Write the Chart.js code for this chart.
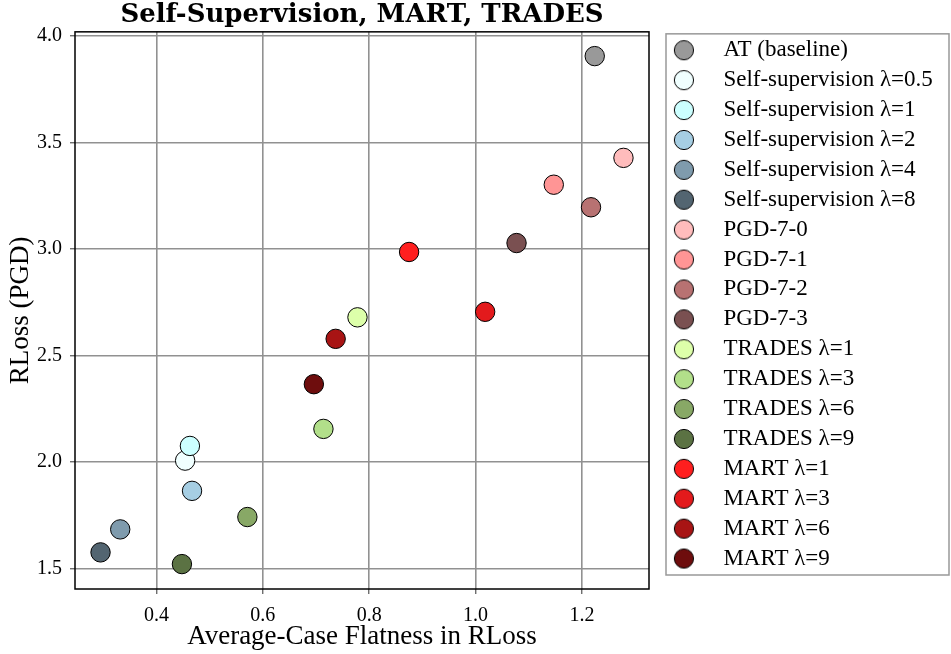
<!DOCTYPE html>
<html>
<head>
<meta charset="utf-8">
<script src="https://cdn.jsdelivr.net/npm/chart.js@4.4.1/dist/chart.umd.min.js"></script>
<style>
  html, body { margin: 0; padding: 0; background: #fff; }
</style>
</head>
<body>
<canvas id="chart" width="951" height="654"></canvas>
<script>
'use strict';

/* ---- data ---- */
const SERIES = [
    'AT (baseline)',
    'Self-supervision λ=0.5', 'Self-supervision λ=1', 'Self-supervision λ=2',
    'Self-supervision λ=4', 'Self-supervision λ=8',
    'PGD-7-0', 'PGD-7-1', 'PGD-7-2', 'PGD-7-3',
    'TRADES λ=1', 'TRADES λ=3', 'TRADES λ=6', 'TRADES λ=9',
    'MART λ=1', 'MART λ=3', 'MART λ=6', 'MART λ=9'
];
// average-case flatness (x)
const FLATNESS = [
    1.224,
    0.454, 0.463, 0.467, 0.332, 0.295,
    1.278, 1.147, 1.217, 1.077,
    0.778, 0.714, 0.571, 0.448,
    0.875, 1.018, 0.737, 0.696
];
// RLoss (PGD) (y)
const RLOSS = [
    3.906,
    2.006, 2.075, 1.864, 1.683, 1.575,
    3.428, 3.302, 3.196, 3.028,
    2.679, 2.155, 1.741, 1.520,
    2.986, 2.705, 2.578, 2.365
];
const FILLS = [
    '#999999',
    '#f0ffff', '#ccffff', '#a6cee3', '#7f9bad', '#536571',
    '#ffbcbc', '#ff9595', '#b87272', '#7a5051',
    '#ddffaa', '#b2df8a', '#88a866', '#5b7243',
    '#ff1f1f', '#e31a1c', '#a81414', '#6e0d0d'
];
const X_TICKS = [0.4, 0.6, 0.8, 1.0, 1.2];
const Y_TICKS = [1.5, 2.0, 2.5, 3.0, 3.5, 4.0];

const SERIF = "'Liberation Serif', 'Times New Roman', serif";
const LEGEND_W = 302;

// legend markers: little canvases so the circle keeps its shape with a wide box
function markerImage(fill) {
    const c = document.createElement('canvas');
    c.width = 22; c.height = 22;
    const g = c.getContext('2d');
    g.beginPath();
    g.arc(11, 11, 9.6, 0, Math.PI * 2);
    g.fillStyle = fill;
    g.fill();
    g.lineWidth = 1;
    g.strokeStyle = '#000';
    g.stroke();
    return c;
}
const MARKERS = FILLS.map(markerImage);

// axes frame + legend box
const framePlugin = {
    id: 'frame',
    beforeLayout(chart) {
        const lg = chart.legend;
        if (lg && !lg._fixedWidth) {
            const fit = lg.fit.bind(lg);
            lg.fit = function () { fit(); this.width = LEGEND_W; };
            lg._fixedWidth = true;
        }
    },
    afterDatasetsDraw(chart) {
        const { ctx, chartArea: a } = chart;
        ctx.save();
        ctx.strokeStyle = '#000';
        ctx.lineWidth = 1.5;
        ctx.strokeRect(a.left, a.top, a.right - a.left, a.bottom - a.top);
        ctx.restore();
    },
    afterDraw(chart) {
        const lg = chart.legend;
        if (!lg) return;
        const { ctx } = chart;
        ctx.save();
        ctx.strokeStyle = '#999';
        ctx.lineWidth = 1.5;
        ctx.strokeRect(lg.left + 17, lg.top + 2, lg.right - lg.left - 19, lg.bottom - lg.top - 16);
        ctx.restore();
    }
};

new Chart(document.getElementById('chart'), {
    type: 'scatter',
    data: {
        datasets: SERIES.map((name, i) => ({
            label: name,
            data: [{ x: FLATNESS[i], y: RLOSS[i] }],
            backgroundColor: FILLS[i],
            borderColor: '#000',
            borderWidth: 1,
            pointRadius: 9.7,
            pointHoverRadius: 9.7,
            order: -i
        }))
    },
    options: {
        responsive: false,
        animation: false,
        layout: { padding: 0 },
        scales: {
            x: {
                type: 'linear',
                min: 0.247,
                max: 1.326,
                afterBuildTicks: s => { s.ticks = X_TICKS.map(v => ({ value: v })); },
                afterFit: s => { s.height = 65; },
                border: { display: false },
                grid: { color: '#919191', lineWidth: 1.6, tickLength: 5, tickColor: '#333', tickWidth: 1 },
                ticks: {
                    color: '#000', autoSkip: false, maxRotation: 0, padding: 10,
                    font: { family: SERIF, size: 20 },
                    callback: v => Number(v).toFixed(1)
                },
                title: {
                    display: true, text: 'Average-Case Flatness in RLoss', color: '#000',
                    font: { family: SERIF, size: 27 }, padding: { top: 1, bottom: 1 }
                }
            },
            y: {
                type: 'linear',
                min: 1.403,
                max: 4.02,
                afterBuildTicks: s => { s.ticks = Y_TICKS.map(v => ({ value: v })); },
                afterFit: s => { s.width = 75; },
                border: { display: false },
                grid: { color: '#919191', lineWidth: 1.6, tickLength: 5, tickColor: '#333', tickWidth: 1 },
                ticks: {
                    color: '#000', autoSkip: false, padding: 8,
                    font: { family: SERIF, size: 20 },
                    callback: v => Number(v).toFixed(1)
                },
                title: {
                    display: true, text: 'RLoss (PGD)', color: '#000',
                    font: { family: SERIF, size: 27 }, padding: { top: 5, bottom: 0 }
                }
            }
        },
        plugins: {
            title: {
                display: true,
                text: 'Self-Supervision, MART, TRADES',
                color: '#000',
                fullSize: false,
                font: { family: "'DejaVu Serif', serif", size: 26, weight: 'bold', lineHeight: 0.84 },
                padding: { top: 4, bottom: 6 }
            },
            legend: {
                position: 'right',
                align: 'start',
                fullSize: false,
                labels: {
                    color: '#000',
                    font: { family: SERIF, size: 23 },
                    usePointStyle: true,
                    pointStyleWidth: 56,
                    boxHeight: 14,
                    padding: 6.9,
                    generateLabels(chart) {
                        const items = Chart.defaults.plugins.legend.labels.generateLabels(chart);
                        items.sort((a, b) => a.datasetIndex - b.datasetIndex);
                        items.forEach(it => { it.pointStyle = MARKERS[it.datasetIndex]; });
                        return items;
                    }
                }
            },
            tooltip: { enabled: false }
        }
    },
    plugins: [framePlugin]
});
</script>
</body>
</html>
